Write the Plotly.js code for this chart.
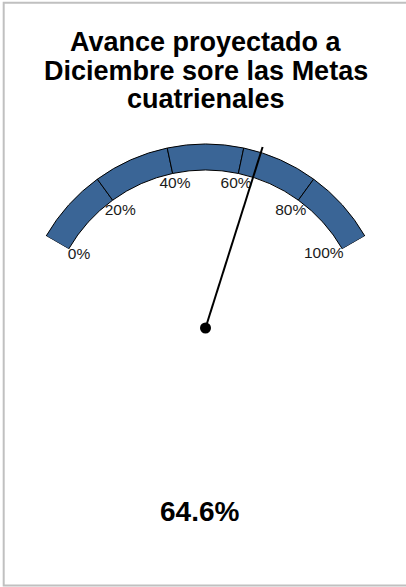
<!DOCTYPE html>
<html>
<head>
<meta charset="utf-8">
<script src="https://cdn.plot.ly/plotly-3.0.1.min.js"></script>
<style>
html,body{margin:0;padding:0;background:#fff;}
#chart{width:406px;height:587px;}
</style>
</head>
<body>
<div id="chart"></div>
<script>
// ---- data ----
const titleLines = ["Avance proyectado a", "Diciembre sore las Metas", "cuatrienales"];
const segmentStarts = [0, 20, 40, 60, 80];
const segmentEnds = [20, 40, 60, 80, 100];
const tickValues = [0, 20, 40, 60, 80, 100];
const tickLabels = ["0%", "20%", "40%", "60%", "80%", "100%"];
const gaugeValue = 64.6;
const valueLabel = "64.6%";

// ---- geometry / style constants ----
const W = 406, H = 587;
const SWEEP = 120;               // degrees covered by 0..100%
const GAUGE_MAX = 100;
const degPerUnit = SWEEP / GAUGE_MAX;
const cx = 205.5, cy = 328;      // gauge centre in px
const rInner = 158, rOuter = 184, rNeedle = 190;
const labelRadius = [146, 145, 147, 147, 145, 139.5];
const labelThetaShift = [0, 0, 0, 0, 0, -2];
const rMax = rNeedle;
const halfW = Math.sin(SWEEP / 2 * Math.PI / 180) * rMax;
const barColor = "#3a6596";
const FONT = "Liberation Sans, Arial, Helvetica, sans-serif";

const px = x => x / W;
const py = y => 1 - y / H;

const segTheta = segmentStarts.map((s, i) => (s + segmentEnds[i]) / 2 * degPerUnit);
const segWidth = segmentStarts.map((s, i) => (segmentEnds[i] - s) * degPerUnit);

const traces = [
  {
    type: "barpolar",
    r: segmentStarts.map(() => rOuter - rInner),
    base: segmentStarts.map(() => rInner),
    theta: segTheta,
    width: segWidth,
    marker: {color: barColor, line: {color: "#000", width: 1}},
    hoverinfo: "skip"
  },
  {
    type: "scatterpolar",
    mode: "text",
    r: labelRadius,
    theta: tickValues.map((v, i) => v * degPerUnit + labelThetaShift[i]),
    text: tickLabels,
    textposition: "middle center",
    textfont: {family: FONT, size: 15.5, color: "#1a1a1a"},
    cliponaxis: false,
    hoverinfo: "skip"
  },
  {
    type: "scatterpolar",
    mode: "lines",
    r: [0, rNeedle],
    theta: [gaugeValue * degPerUnit, gaugeValue * degPerUnit],
    line: {color: "#000", width: 2},
    cliponaxis: false,
    hoverinfo: "skip"
  },
  {
    type: "scatterpolar",
    mode: "markers",
    r: [0],
    theta: [gaugeValue * degPerUnit],
    marker: {color: "#000", size: 11},
    cliponaxis: false,
    hoverinfo: "skip"
  }
];

const titleY = [41.5, 70.5, 99];
const annotations = titleLines.map((t, i) => ({
  text: t, xref: "paper", yref: "paper", x: px(206.5), y: py(titleY[i]),
  xanchor: "center", yanchor: "middle", showarrow: false,
  font: {family: FONT, size: 27, color: "#000", weight: "bold"}
}));
annotations.push({
  text: valueLabel, xref: "paper", yref: "paper", x: px(199), y: py(511),
  xanchor: "center", yanchor: "middle", showarrow: false,
  font: {family: FONT, size: 28, color: "#000", weight: "bold"}
});

const layout = {
  width: W, height: H,
  margin: {l: 0, r: 0, t: 0, b: 0},
  paper_bgcolor: "#fff",
  showlegend: false,
  polar: {
    domain: {x: [px(cx - halfW), px(cx + halfW)], y: [py(cy), py(cy - rMax)]},
    sector: [90 - SWEEP / 2, 90 + SWEEP / 2],
    hole: 0,
    bgcolor: "rgba(0,0,0,0)",
    bargap: 0,
    radialaxis: {visible: false, range: [0, rMax], showgrid: false, showline: false, showticklabels: false, ticks: ""},
    angularaxis: {visible: false, direction: "clockwise", rotation: 90 + SWEEP / 2, thetaunit: "degrees",
                  showgrid: false, showline: false, showticklabels: false, ticks: ""}
  },
  shapes: [{
    type: "rect", xref: "paper", yref: "paper",
    x0: px(3.7), x1: px(W + 5), y0: py(585.5), y1: py(2.8),
    line: {color: "#c0c0c0", width: 2}, fillcolor: "rgba(0,0,0,0)"
  }],
  annotations: annotations
};

Plotly.newPlot("chart", traces, layout, {displayModeBar: false, staticPlot: true});
</script>
</body>
</html>
